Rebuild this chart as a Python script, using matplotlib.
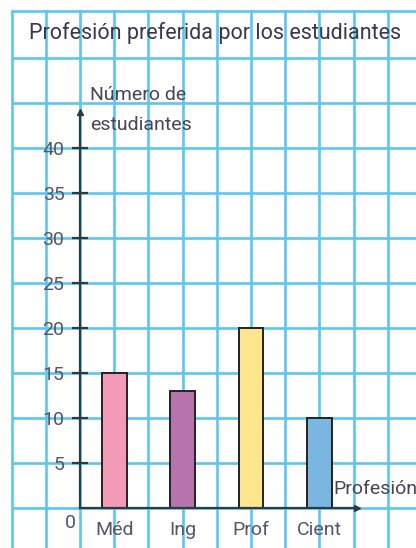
import matplotlib
matplotlib.use("Agg")
import matplotlib.pyplot as plt

# Datos del gráfico
profesiones = ["Méd", "Ing", "Prof", "Cient"]
estudiantes = [15, 13, 20, 10]
colores = ["#F39AB6", "#B673AE", "#FDE68E", "#79B6E1"]
y_ticks = [5, 10, 15, 20, 25, 30, 35, 40]

plt.rcParams["font.family"] = ["Roboto", "DejaVu Sans"]
plt.rcParams["font.stretch"] = "condensed"

grid_color = "#5CC6EE"
axis_color = "#2d3b40"
text_color = "#47445a"
tick_color = "#55546a"

fig = plt.figure(figsize=(4.16, 5.48), dpi=100)
ax = fig.add_axes([0, 0, 1, 1])
# one grid column = 34.2 px, one student = 9 px
ax.set_xlim(-80 / 34.2, 336 / 34.2)
ax.set_ylim(-40 / 9, 508 / 9)

# cuadricula de fondo
for gx in range(-2, 11):
    ax.plot([gx, gx], [-10, 55.2], color=grid_color, lw=1.9, zorder=0)
for gy in list(range(0, 55, 5)) + [55.2]:
    ax.plot([-1.95, 11], [gy, gy], color=grid_color, lw=1.9, zorder=0)

positions = [2 * i + 1 for i in range(len(profesiones))]
ax.bar(positions, estudiantes, width=0.73, color=colores,
       edgecolor="#222222", linewidth=1.4, zorder=3)

# ejes con flechas
for side in ["top", "right"]:
    ax.spines[side].set_visible(False)
ax.spines["left"].set_position(("data", 0))
ax.spines["bottom"].set_position(("data", 0))
ax.spines["left"].set_bounds(0, 44)
ax.spines["bottom"].set_bounds(0, 8.1)
for side in ["left", "bottom"]:
    ax.spines[side].set_color(axis_color)
    ax.spines[side].set_linewidth(1.6)
    ax.spines[side].set_zorder(4)
ax.plot(0, 44, marker="^", ms=5, color=axis_color, clip_on=False, zorder=4)
ax.plot(8.1, 0, marker=">", ms=5, color=axis_color, clip_on=False, zorder=4)

ax.set_yticks(y_ticks)
ax.tick_params(axis="y", direction="inout", length=11.5, width=1.6,
               color=axis_color, labelsize=14, labelcolor=tick_color, pad=5.5)
ax.set_xticks(positions, profesiones)
ax.tick_params(axis="x", length=0, labelsize=14, labelcolor=tick_color, pad=9.5)

ax.text(-0.12, -1.7, "0", ha="right", va="center", fontsize=14, color=tick_color)
ax.text(0.29, 45.3, "Número de", ha="left", va="baseline",
        fontsize=14, color=text_color, zorder=5)
ax.text(0.29, 42.0, "estudiantes", ha="left", va="baseline",
        fontsize=14, color=text_color, zorder=5)
ax.text(7.4, 2.1, "Profesión", ha="left", va="center", fontsize=14,
        color=text_color, zorder=5)
ax.text(3.95, 52.8, "Profesión preferida por los estudiantes", ha="center",
        va="center", fontsize=15.5, color="#3b3650", zorder=5)

fig.savefig("out.png", dpi=100)
